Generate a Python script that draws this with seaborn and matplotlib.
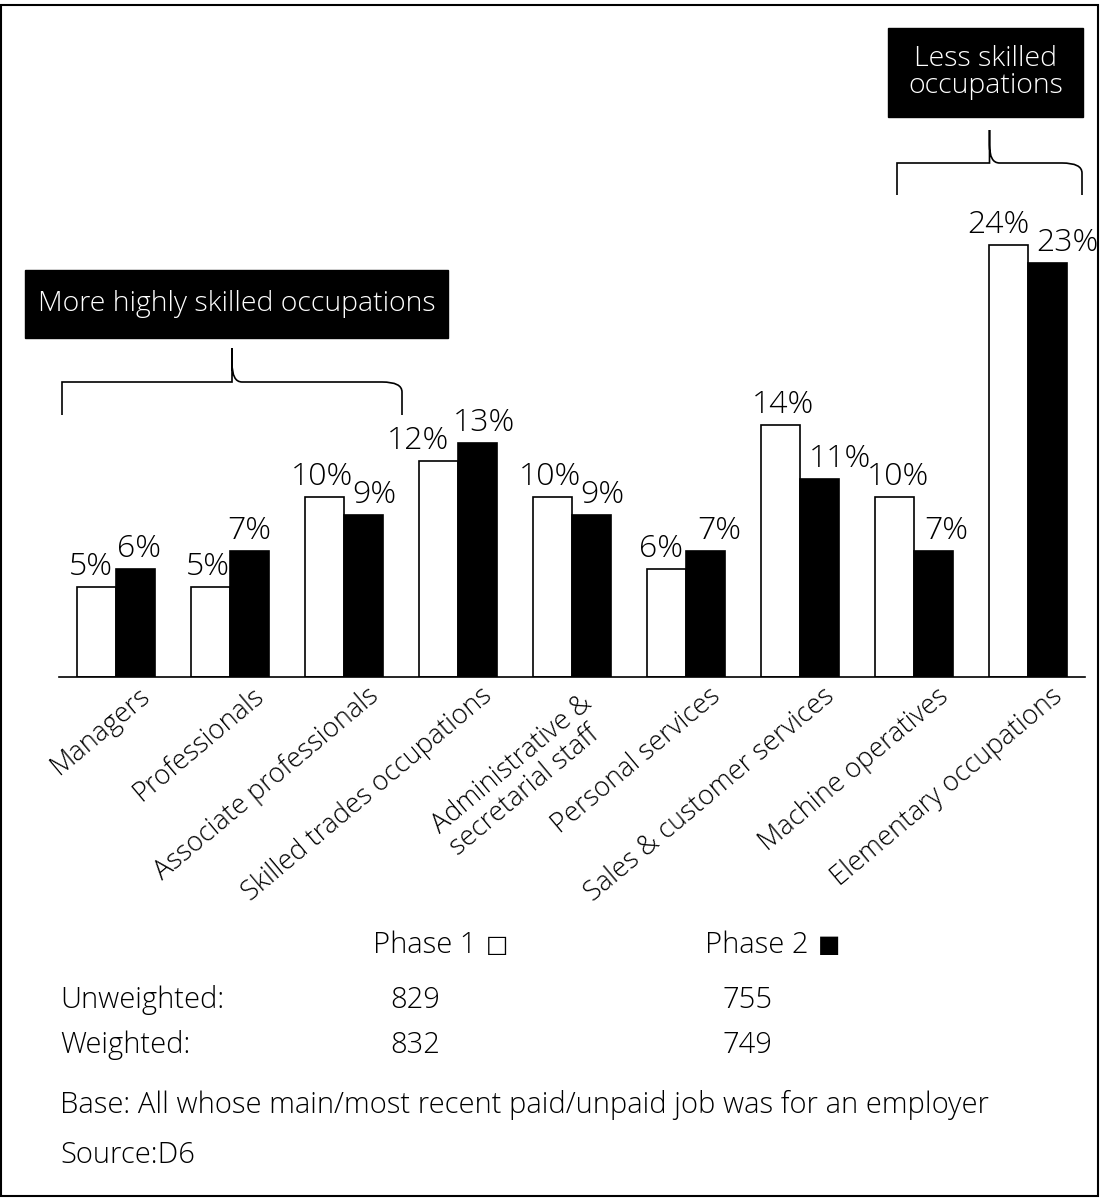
import numpy as np
import pandas as pd
import seaborn as sns
import matplotlib.pyplot as plt
from matplotlib.patches import Rectangle, PathPatch
from matplotlib.path import Path
import matplotlib.transforms as mtransforms

# data
occupations = ['Managers', 'Professionals', 'Associate professionals',
               'Skilled trades occupations', 'Administrative &\nsecretarial staff',
               'Personal services', 'Sales & customer services',
               'Machine operatives', 'Elementary occupations']
phase1 = [5, 5, 10, 12, 10, 6, 14, 10, 24]
phase2 = [6, 7, 9, 13, 9, 7, 11, 7, 23]
phases = ['Phase 1', 'Phase 2']
unweighted = [829, 755]
weighted = [832, 749]

df = pd.DataFrame({
    'occupation': occupations * 2,
    'phase': ['Phase 1'] * len(occupations) + ['Phase 2'] * len(occupations),
    'pct': phase1 + phase2,
})

# horizontal nudges (px) of the value labels, as placed in the original
nudge1 = [-6, -3, -2, -20, -2, -5, 3, 4, -10]
nudge2 = [3, 0, 11, 6, 11, 14, 20, 13, 20]

sns.set_theme(style='white')
plt.rcParams['font.family'] = ['Open Sans', 'DejaVu Sans']
plt.rcParams['font.weight'] = 'light'
plt.rcParams['text.color'] = 'black'
plt.rcParams['xtick.color'] = 'black'
FS_TICK = 19.5
FS_VAL = 23
FS_TXT = 21

W, H = 1100, 1198
fig = plt.figure(figsize=(W / 100, H / 100), dpi=100)

def fx(x):
    return x / W

def fy(y):
    return 1 - y / H

# axes: baseline at y=677 px, 18 px per percent
ax = fig.add_axes([fx(59), fy(677), (1085 - 59) / W, (677 - 20) / H])
sns.barplot(data=df, x='occupation', y='pct', hue='phase', hue_order=phases,
            palette=['white', 'black'], edgecolor='black', linewidth=1.2,
            width=0.69, gap=0, legend=False, ax=ax)
ax.set_ylim(0, (677 - 20) / 18)
ax.set_xlim(-0.5, len(occupations) - 0.5)
ax.set_xlabel('')
ax.set_ylabel('')
ax.set_yticks([])
for s in ['top', 'left', 'right']:
    ax.spines[s].set_visible(False)
ax.spines['bottom'].set_color('black')
ax.spines['bottom'].set_linewidth(1.2)
ax.tick_params(axis='x', length=0, pad=0)

# value labels
for cont, nudges in zip(ax.containers, [nudge1, nudge2]):
    for rect, dx in zip(cont, nudges):
        h = rect.get_height()
        ax.annotate(f'{h:.0f}%', xy=(rect.get_x() + rect.get_width() / 2, h),
                    xytext=(dx * 0.72, 3), textcoords='offset points',
                    ha='center', va='bottom', fontsize=FS_VAL)

# rotated tick labels
ax.set_xticks(range(len(occupations)))
ax.set_xticklabels(occupations, rotation=40, ha='right', va='center',
                   rotation_mode='anchor', fontsize=FS_TICK,
                   multialignment='left', linespacing=1.0)
for lab in ax.get_xticklabels():
    dx, dy = 31, -16
    if '\n' in lab.get_text():
        dx, dy = 26, -34
    off = mtransforms.ScaledTranslation(dx / 100, dy / 100, fig.dpi_scale_trans)
    lab.set_transform(lab.get_transform() + off)

# label boxes
def box(x0, y0, x1, y1, text):
    fig.patches.append(Rectangle((fx(x0), fy(y1)), fx(x1 - x0), (y1 - y0) / H,
                                 transform=fig.transFigure, color='black'))
    fig.text(fx((x0 + x1) / 2), fy((y0 + y1) / 2), text, color='white',
             ha='center', va='center', fontsize=20.5, linespacing=1.0)

box(25, 270, 448, 338, 'More highly skilled occupations')
box(888, 28, 1083, 117, 'Less skilled\noccupations')

# curly braces
def brace(x0, x1, ytip, yh, yend):
    xm = (x0 + x1) / 2
    r = 10
    pts = [(x0, yend), (x0, yh + r), (x0, yh), (x0 + r * 2, yh),
           (xm - r, yh), (xm, yh), (xm, ytip + r * 1.5), (xm, ytip)]
    pts2 = [(xm, ytip + r * 1.5), (xm, yh), (xm + r, yh),
            (x1 - r * 2, yh), (x1, yh), (x1, yh + r), (x1, yend)]
    verts = pts + pts2
    codes = [Path.MOVETO, Path.CURVE3, Path.CURVE3, Path.LINETO,
             Path.CURVE3, Path.CURVE3, Path.LINETO, Path.LINETO,
             Path.LINETO, Path.CURVE3, Path.CURVE3, Path.LINETO,
             Path.CURVE3, Path.CURVE3, Path.LINETO]
    path = Path([(fx(x), fy(y)) for x, y in verts], codes)
    fig.patches.append(PathPatch(path, transform=fig.transFigure,
                                 fill=False, lw=1.2, color='black'))

brace(62, 402, 348, 382, 415)
brace(897, 1082, 130, 163, 195)

# bottom text block
renderer = fig.canvas.get_renderer()
for xpos, name, mark in zip([373, 705], phases, ['\u25a1', '\u25a0']):
    t = fig.text(fx(xpos), fy(945), name, fontsize=FS_TXT, va='center')
    x_end = t.get_window_extent(renderer).x1
    fig.text(x_end / W + fx(9), fy(945), mark, fontsize=17, va='center',
             family=['DejaVu Sans'], fontweight='normal', linespacing=1.0)
fig.text(fx(60), fy(1000), 'Unweighted:', fontsize=FS_TXT, va='center')
fig.text(fx(60), fy(1045), 'Weighted:', fontsize=FS_TXT, va='center')
for xpos, u, w in zip([390, 722], unweighted, weighted):
    fig.text(fx(xpos), fy(1000), str(u), fontsize=FS_TXT, va='center')
    fig.text(fx(xpos), fy(1045), str(w), fontsize=FS_TXT, va='center')
fig.text(fx(60), fy(1105),
         'Base: All whose main/most recent paid/unpaid job was for an employer',
         fontsize=FS_TXT, va='center')
fig.text(fx(60), fy(1155), 'Source:D6', fontsize=FS_TXT, va='center')

# outer frame
fig.patches.append(Rectangle((fx(1), fy(1196)), fx(1097), 1191 / H,
                             transform=fig.transFigure, fill=False,
                             lw=1.5, color='black'))

fig.savefig('out.png', dpi=100)
